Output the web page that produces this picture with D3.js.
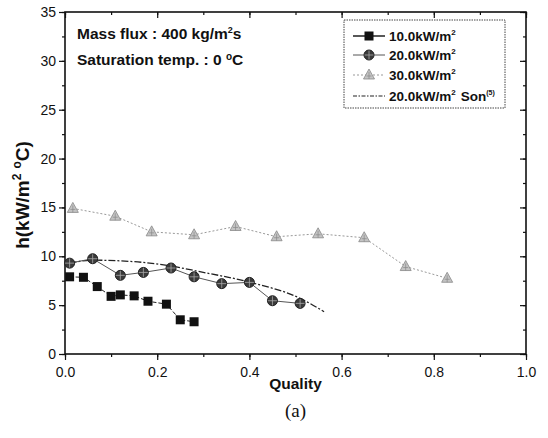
<!DOCTYPE html>
<html>
<head>
<meta charset="utf-8">
<script src="https://cdn.jsdelivr.net/npm/d3@7"></script>
<style>
  body { margin: 0; background: #fff; }
  text { font-family: "Liberation Sans", Arial, sans-serif; }
</style>
</head>
<body>
<div id="chart"></div>
<script>
// data
var q10 = [0.01, 0.04, 0.07, 0.10, 0.12, 0.15, 0.18, 0.22, 0.25, 0.28];
var h10 = [7.9, 7.85, 6.9, 5.9, 6.05, 5.95, 5.4, 5.1, 3.5, 3.3];

var q20 = [0.01, 0.06, 0.12, 0.17, 0.23, 0.28, 0.34, 0.40, 0.45, 0.51];
var h20 = [9.3, 9.75, 8.05, 8.35, 8.8, 7.9, 7.2, 7.33, 5.45, 5.18];

var q30 = [0.017, 0.109, 0.188, 0.28, 0.37, 0.459, 0.549, 0.649, 0.739, 0.829];
var h30 = [14.9, 14.1, 12.5, 12.2, 13.05, 12.0, 12.3, 11.9, 8.95, 7.75];

var qSon = [0.01, 0.06, 0.15, 0.23, 0.29, 0.40, 0.51, 0.562];
var hSon = [9.3, 9.6, 9.45, 9.0, 8.45, 7.35, 5.7, 4.33];

var xTicks = [0, 0.2, 0.4, 0.6, 0.8, 1.0];
var yTicks = [0, 5, 10, 15, 20, 25, 30, 35];

var svgWidth = 548;
var svgHeight = 438;

var margin = { top: 12, right: 22, bottom: 84, left: 65 };
var chartWidth = svgWidth - margin.left - margin.right;
var chartHeight = svgHeight - margin.top - margin.bottom;

var svg = d3.select("#chart")
    .append("svg")
        .attr("width", svgWidth)
        .attr("height", svgHeight)
        .attr("font-family", "Liberation Sans, Arial, sans-serif");

var chart = svg.append("g")
    .attr("transform", `translate(${margin.left}, ${margin.top})`);

var xScale = d3.scaleLinear().domain([0, 1]).range([0, chartWidth]);
var yScale = d3.scaleLinear().domain([0, 35]).range([chartHeight, 0]);

var xMinor = d3.range(0, 1.01, 0.1);
var yMinor = d3.range(0, 35.1, 2.5);

function styleAxis(g) {
    g.select(".domain").remove();
    g.selectAll("line").attr("stroke", "#111").attr("stroke-width", 1.2);
    g.selectAll("text")
        .attr("fill", "#111")
        .style("font-size", "14px");
}

// minor ticks
chart.append("g").attr("transform", `translate(0, ${chartHeight})`)
    .call(d3.axisBottom(xScale).tickValues(xMinor).tickSize(3).tickFormat(""))
    .call(styleAxis);
chart.append("g")
    .call(d3.axisLeft(yScale).tickValues(yMinor).tickSize(3).tickFormat(""))
    .call(styleAxis);
chart.append("g")
    .call(d3.axisBottom(xScale).tickValues(xMinor).tickSize(3).tickFormat(""))
    .call(styleAxis);
chart.append("g").attr("transform", `translate(${chartWidth}, 0)`)
    .call(d3.axisLeft(yScale).tickValues(yMinor).tickSize(3).tickFormat(""))
    .call(styleAxis);

// major ticks
chart.append("g").attr("transform", `translate(0, ${chartHeight})`)
    .call(d3.axisBottom(xScale).tickValues(xTicks).tickSize(6).tickPadding(7).tickFormat(d3.format(".1f")))
    .call(styleAxis);
chart.append("g")
    .call(d3.axisLeft(yScale).tickValues(yTicks).tickSize(6).tickPadding(3).tickFormat(d3.format("d")))
    .call(styleAxis);
chart.append("g")
    .call(d3.axisBottom(xScale).tickValues(xTicks).tickSize(6).tickFormat(""))
    .call(styleAxis);
chart.append("g").attr("transform", `translate(${chartWidth}, 0)`)
    .call(d3.axisLeft(yScale).tickValues(yTicks).tickSize(6).tickFormat(""))
    .call(styleAxis);

// frame
chart.append("rect")
    .attr("width", chartWidth)
    .attr("height", chartHeight)
    .attr("fill", "none")
    .attr("stroke", "#111")
    .attr("stroke-width", 1.6);

function pts(qs, hs) {
    return qs.map(function (q, i) { return [q, hs[i]]; });
}

var line = d3.line()
    .x(function (d) { return xScale(d[0]); })
    .y(function (d) { return yScale(d[1]); });

var sonLine = d3.line()
    .curve(d3.curveMonotoneX)
    .x(function (d) { return xScale(d[0]); })
    .y(function (d) { return yScale(d[1]); });

// lines
chart.append("path").datum(pts(q30, h30))
    .attr("d", line).attr("fill", "none")
    .attr("stroke", "#999").attr("stroke-width", 1).attr("stroke-dasharray", "2,2");

chart.append("path").datum(pts(qSon, hSon))
    .attr("d", sonLine).attr("fill", "none")
    .attr("stroke", "#222").attr("stroke-width", 1.3).attr("stroke-dasharray", "7,2,2,2");

chart.append("path").datum(pts(q20, h20))
    .attr("d", line).attr("fill", "none")
    .attr("stroke", "#555").attr("stroke-width", 1);

chart.append("path").datum(pts(q10, h10))
    .attr("d", line).attr("fill", "none")
    .attr("stroke", "#222").attr("stroke-width", 1).attr("stroke-dasharray", "4,2");

// markers
function square(g, x, y) {
    g.append("rect")
        .attr("x", x - 4.5).attr("y", y - 4.5)
        .attr("width", 9).attr("height", 9)
        .attr("fill", "#111");
}
function circle(g, x, y) {
    g.append("circle").attr("cx", x).attr("cy", y).attr("r", 5)
        .attr("fill", "#3a3a3a").attr("stroke", "#222");
    g.append("path")
        .attr("d", `M${x - 4.5},${y}H${x + 4.5}M${x},${y - 4.5}V${y + 4.5}`)
        .attr("stroke", "#aaa").attr("stroke-width", 0.8);
}
function triangle(g, x, y) {
    g.append("path")
        .attr("d", `M${x},${y - 6}L${x + 5.5},${y + 4}L${x - 5.5},${y + 4}Z`)
        .attr("fill", "#c4c4c4").attr("stroke", "#888").attr("stroke-width", 0.8);
    g.append("path")
        .attr("d", `M${x - 2.5},${y + 1}H${x + 2.5}M${x},${y - 3}V${y + 4}`)
        .attr("stroke", "#888").attr("stroke-width", 0.7);
}

var markers = chart.append("g");
pts(q30, h30).forEach(function (d) { triangle(markers, xScale(d[0]), yScale(d[1])); });
pts(q20, h20).forEach(function (d) { circle(markers, xScale(d[0]), yScale(d[1])); });
pts(q10, h10).forEach(function (d) { square(markers, xScale(d[0]), yScale(d[1])); });

// annotation
var note = chart.append("g").style("font-weight", "bold").style("font-size", "15.5px").attr("fill", "#111");
var t1 = note.append("text").attr("x", 12).attr("y", 27);
t1.append("tspan").text("Mass flux : 400 kg/m");
t1.append("tspan").attr("dy", -6).style("font-size", "9px").text("2");
t1.append("tspan").attr("dy", 6).text("s");
var t2 = note.append("text").attr("x", 12).attr("y", 53);
t2.append("tspan").text("Saturation temp. : 0 ");
t2.append("tspan").attr("dy", -5).style("font-size", "10px").text("o");
t2.append("tspan").attr("dy", 5).text("C");

// legend
var legendNames = ["10.0kW/m", "20.0kW/m", "30.0kW/m", "20.0kW/m"];
var legend = chart.append("g").attr("transform", "translate(279, 8)");
legend.append("rect")
    .attr("width", 161).attr("height", 88)
    .attr("fill", "#fff").attr("stroke", "#444")
    .attr("stroke-width", 1).attr("stroke-dasharray", "1.5,1");

var rowY = [16, 35, 55, 76];
var legendStyles = [
    { stroke: "#111", dash: null, w: 1.4 },
    { stroke: "#555", dash: null, w: 1 },
    { stroke: "#999", dash: "2,2", w: 1 },
    { stroke: "#222", dash: "4,1.5,1.5,1.5", w: 1.2 }
];
legendNames.forEach(function (name, i) {
    var y = rowY[i];
    var s = legendStyles[i];
    legend.append("line")
        .attr("x1", 9).attr("x2", 41).attr("y1", y).attr("y2", y)
        .attr("stroke", s.stroke).attr("stroke-width", s.w)
        .attr("stroke-dasharray", s.dash);
    if (i === 0) square(legend, 25, y);
    if (i === 1) circle(legend, 25, y);
    if (i === 2) triangle(legend, 25, y);
    var t = legend.append("text").attr("x", 45).attr("y", y + 5)
        .style("font-weight", "bold").style("font-size", "13.5px").attr("fill", "#111");
    t.append("tspan").text(name);
    t.append("tspan").attr("dy", -6).style("font-size", "8px").text("2");
    if (i === 3) {
        t.append("tspan").attr("dy", 6).attr("dx", 5).text("Son");
        t.append("tspan").attr("dy", -6).style("font-size", "7px").text("(5)");
    }
});

// axis titles
svg.append("text")
    .attr("x", margin.left + chartWidth / 2)
    .attr("y", 389)
    .attr("text-anchor", "middle")
    .style("font-weight", "bold").style("font-size", "15.5px")
    .attr("fill", "#111")
    .text("Quality");

var yTitle = svg.append("text")
    .attr("transform", `translate(29, ${margin.top + chartHeight / 2 + 12}) rotate(-90)`)
    .attr("text-anchor", "middle")
    .style("font-weight", "bold").style("font-size", "19px")
    .attr("fill", "#111");
yTitle.append("tspan").text("h(kW/m");
yTitle.append("tspan").attr("dy", -8).style("font-size", "12px").text("2");
yTitle.append("tspan").attr("dx", 5).style("font-size", "12px").text("o");
yTitle.append("tspan").attr("dy", 8).text("C)");

svg.append("text")
    .attr("x", margin.left + chartWidth / 2)
    .attr("y", 417)
    .attr("text-anchor", "middle")
    .style("font-family", "'Liberation Serif', 'Times New Roman', serif")
    .style("font-size", "19px")
    .attr("fill", "#111")
    .text("(a)");
</script>
</body>
</html>
